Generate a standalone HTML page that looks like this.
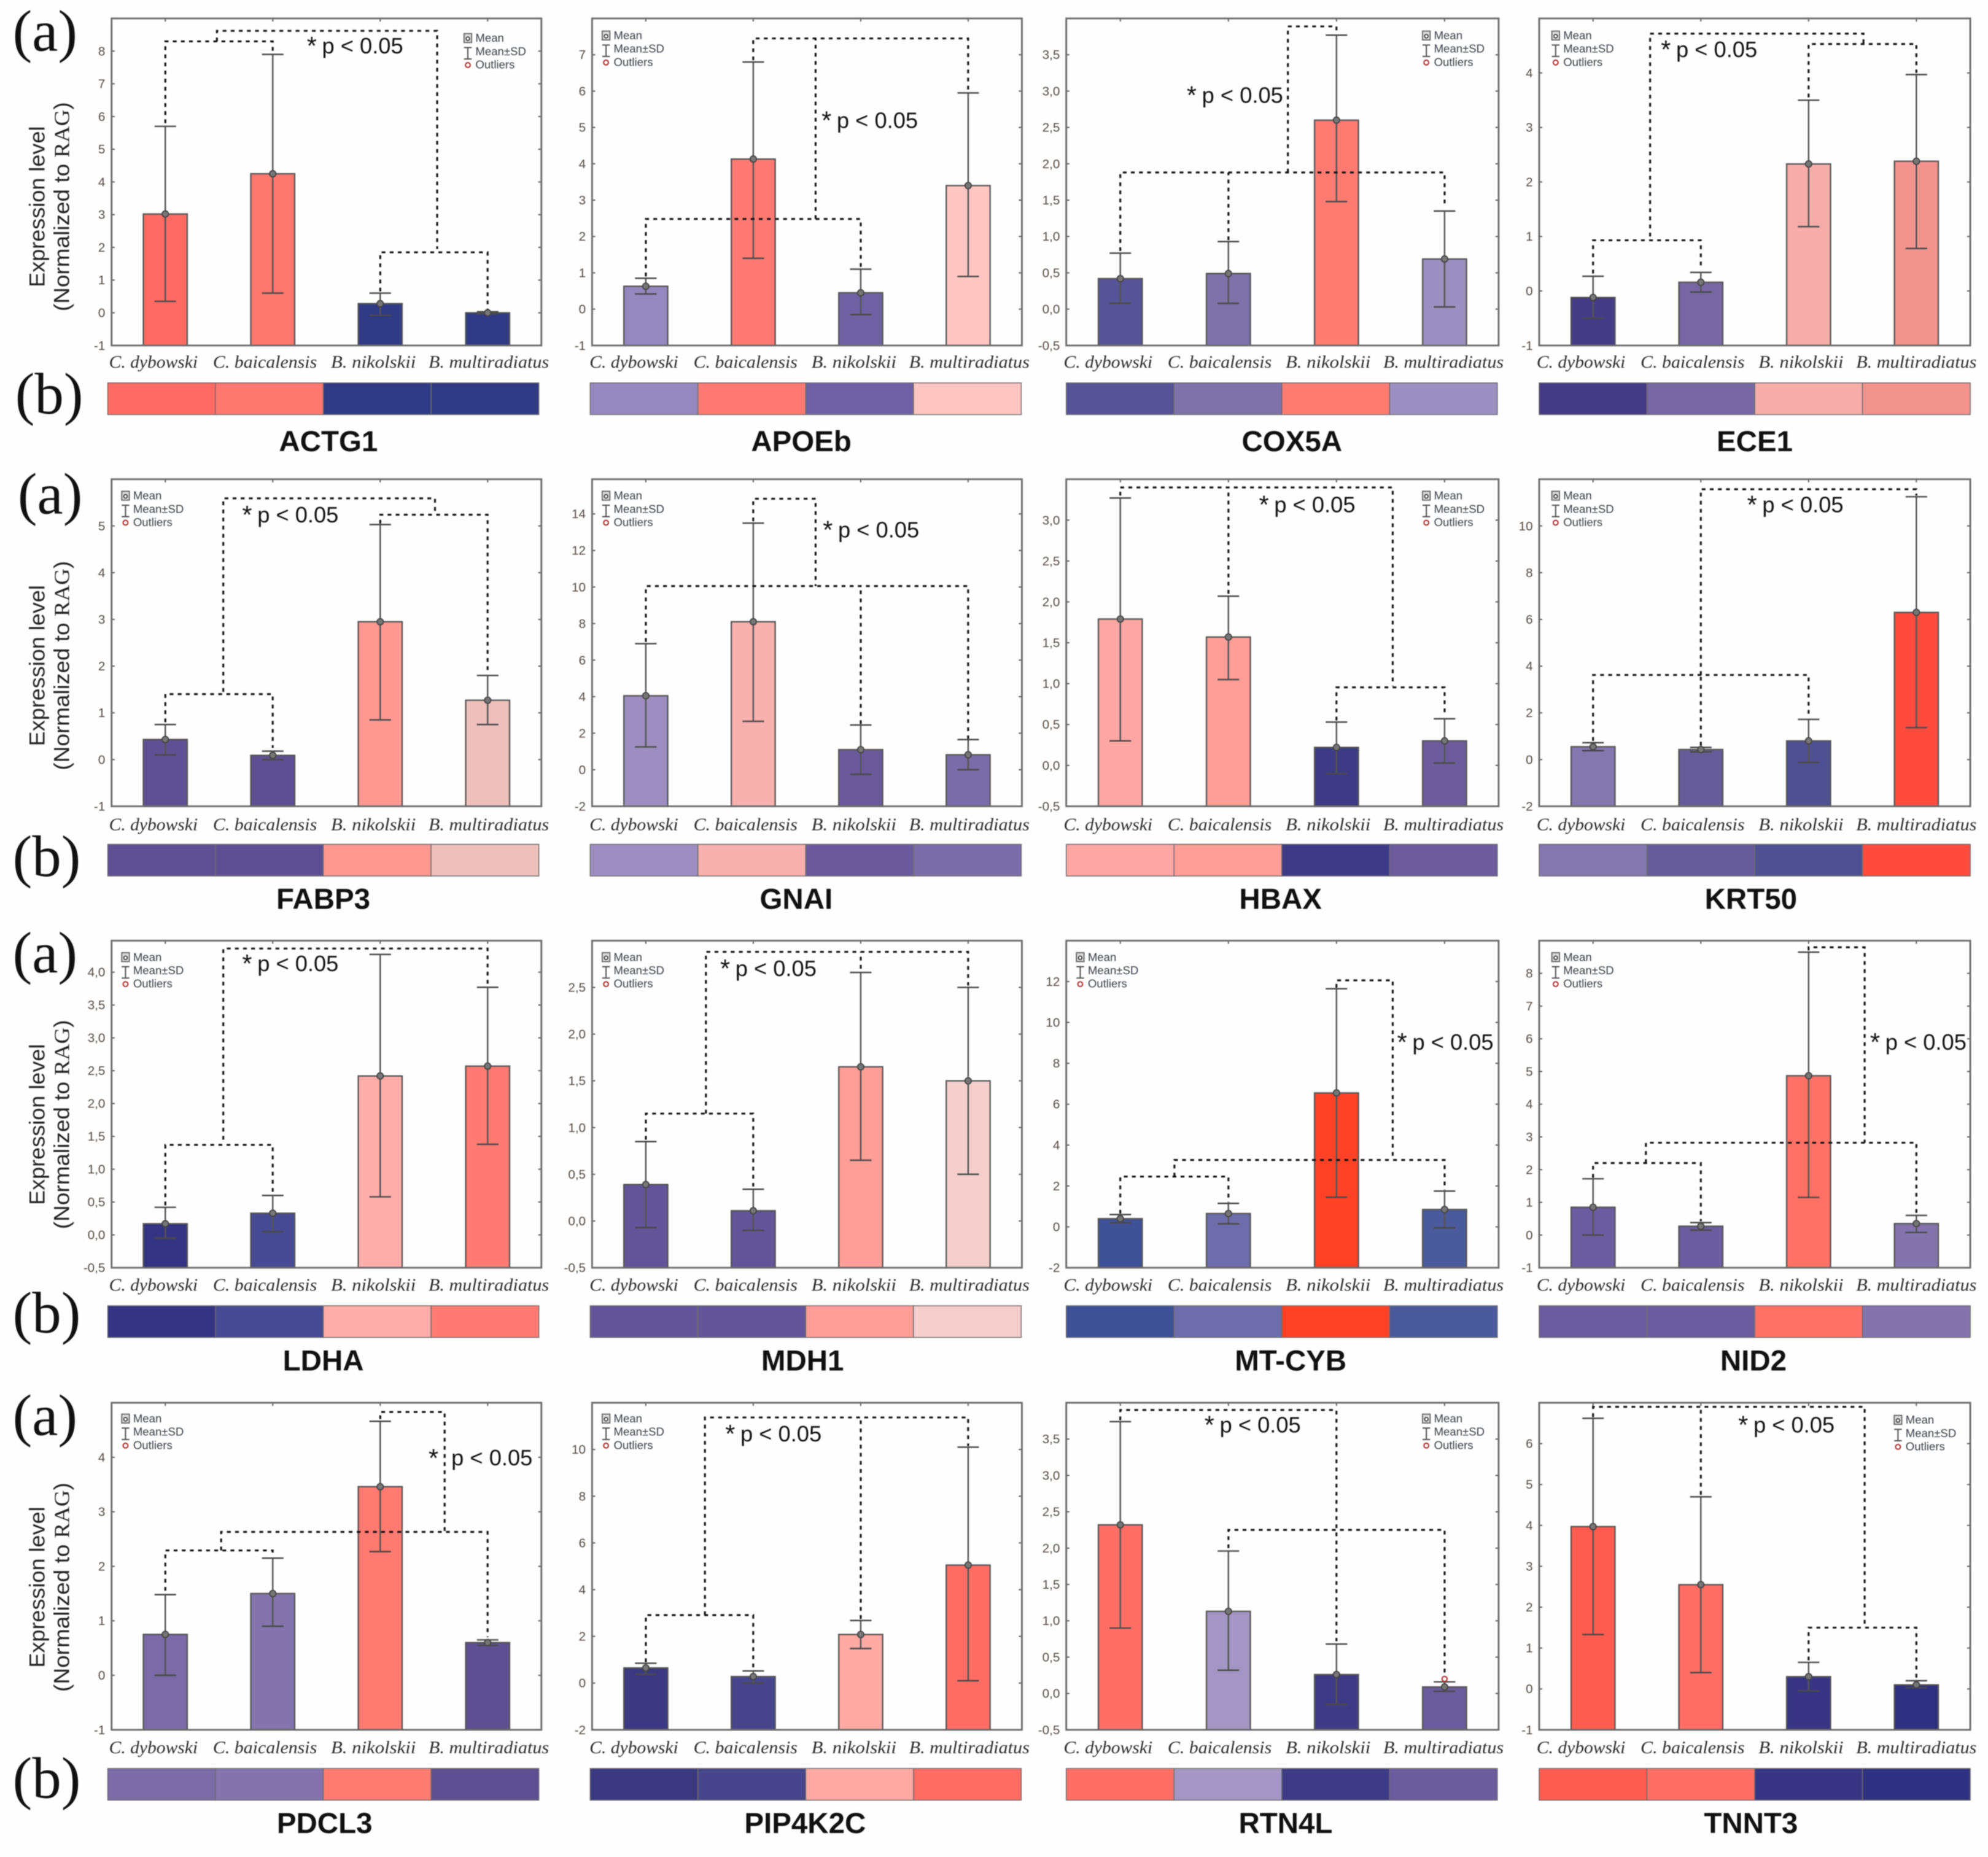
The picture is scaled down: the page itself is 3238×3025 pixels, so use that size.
<!DOCTYPE html>
<html lang="en">
<head>
<meta charset="utf-8">
<title>Expression level by species for sixteen genes</title>
<style>
html,body{margin:0;padding:0;background:#fefefe;}
svg{display:block;width:3238px;height:3025px;filter:blur(0.7px);}
text{font-family:"Liberation Sans",sans-serif;}
</style>
</head>
<body>
<svg id="figure" xmlns="http://www.w3.org/2000/svg" viewBox="0 0 1568 1464.8"></svg>
<script>
/* ---------- data ---------- */
const genes = ["ACTG1","APOEb","COX5A","ECE1","FABP3","GNAI","HBAX","KRT50","LDHA","MDH1","MT-CYB","NID2","PDCL3","PIP4K2C","RTN4L","TNNT3"];
const species = ["C. dybowski","C. baicalensis","B. nikolskii","B. multiradiatus"];
const means = [
  [3.02,4.25,0.28,0.0],[0.63,4.13,0.45,3.4],[0.42,0.49,2.6,0.69],[-0.12,0.16,2.33,2.38],
  [0.43,0.09,2.95,1.27],[4.05,8.1,1.1,0.82],[1.79,1.57,0.22,0.3],[0.55,0.43,0.8,6.3],
  [0.17,0.33,2.42,2.57],[0.39,0.11,1.65,1.5],[0.4,0.65,6.55,0.85],[0.85,0.27,4.87,0.35],
  [0.75,1.5,3.46,0.6],[0.65,0.28,2.08,5.05],[2.32,1.13,0.26,0.09],[3.97,2.55,0.3,0.1]
];
const sdUpper = [
  [5.7,7.9,0.6,0.03],[0.85,6.8,1.1,5.95],[0.77,0.93,3.77,1.35],[0.27,0.34,3.5,3.97],
  [0.75,0.18,5.03,1.8],[6.9,13.5,2.45,1.65],[3.27,2.07,0.53,0.57],[0.72,0.52,1.72,11.25],
  [0.42,0.6,4.27,3.77],[0.85,0.34,2.66,2.5],[0.6,1.15,11.65,1.75],[1.72,0.38,8.65,0.6],
  [1.48,2.15,4.66,0.65],[0.85,0.52,2.68,10.1],[3.74,1.96,0.68,0.16],[6.62,4.7,0.65,0.2]
];
const sdLower = [
  [0.35,0.6,-0.08,-0.03],[0.42,1.4,-0.15,0.9],[0.08,0.08,1.48,0.03],[-0.5,-0.02,1.18,0.78],
  [0.1,0,0.85,0.75],[1.25,2.65,-0.25,0],[0.3,1.05,-0.1,0.03],[0.38,0.33,-0.12,1.37],
  [-0.05,0.05,0.58,1.38],[-0.07,-0.1,0.65,0.5],[0.2,0.15,1.45,-0.05],[0,0.15,1.15,0.08],
  [0,0.9,2.27,0.55],[0.38,0,1.48,0.1],[0.9,0.32,-0.15,0.03],[1.33,0.4,-0.05,0.03]
];
/* outlier points: [category index, value], only RTN4L has one */
const outliers = [[],[],[],[],[],[],[],[],[],[],[],[],[],[],[[3,0.2]],[]];
const yMins = [-1,-1,-0.5,-1,-1,-2,-0.5,-2,-0.5,-0.5,-2,-1,-1,-2,-0.5,-1];
const yMaxs = [9,8,4,5,6,15.9,3.5,12,4.48,3,14,9,5,12,4,7];
const tickLabels = [
  ["-1","0","1","2","3","4","5","6","7","8"],
  ["-1","0","1","2","3","4","5","6","7"],
  ["-0,5","0,0","0,5","1,0","1,5","2,0","2,5","3,0","3,5"],
  ["-1","0","1","2","3","4"],
  ["-1","0","1","2","3","4","5"],
  ["-2","0","2","4","6","8","10","12","14"],
  ["-0,5","0,0","0,5","1,0","1,5","2,0","2,5","3,0"],
  ["-2","0","2","4","6","8","10"],
  ["-0,5","0,0","0,5","1,0","1,5","2,0","2,5","3,0","3,5","4,0"],
  ["-0,5","0,0","0,5","1,0","1,5","2,0","2,5"],
  ["-2","0","2","4","6","8","10","12"],
  ["-1","0","1","2","3","4","5","6","7","8"],
  ["-1","0","1","2","3","4"],
  ["-2","0","2","4","6","8","10"],
  ["-0,5","0,0","0,5","1,0","1,5","2,0","2,5","3,0","3,5"],
  ["-1","0","1","2","3","4","5","6"]
];
/* significance brackets: polylines of [category index, value] */
const brackets = [
  [[[0,5.8],[0,8.3],[1,8.3],[1,7.95]],[[2,0.65],[2,1.85],[3,1.85],[3,0.1]],[[0.48,8.3],[0.48,8.62],[2.53,8.62],[2.53,1.95]]],
  [[[0,0.9],[0,2.48],[2,2.48],[2,1.15]],[[1.58,2.48],[1.58,7.45]],[[1,6.85],[1,7.45],[3,7.45],[3,6]]],
  [[[0,0.8],[0,1.88],[3,1.88],[3,1.4]],[[1,0.95],[1,1.88]],[[1.55,1.88],[1.55,3.89],[2,3.89],[2,3.8]]],
  [[[0,0.32],[0,0.93],[1,0.93],[1,0.4]],[[2,3.55],[2,4.53],[3,4.53],[3,4]],[[0.53,1.0],[0.53,4.72],[2.51,4.72],[2.51,4.53]]],
  [[[0,0.8],[0,1.4],[1,1.4],[1,0.25]],[[2,5.05],[2,5.24],[3,5.24],[3,1.85]],[[0.54,1.45],[0.54,5.59],[2.51,5.59],[2.51,5.24]]],
  [[[0,7],[0,10.05],[3,10.05],[3,1.7]],[[2,2.5],[2,10.05]],[[1,13.6],[1,14.83],[1.58,14.83],[1.58,10.05]]],
  [[[0,3.3],[0,3.4],[2.52,3.4],[2.52,0.97]],[[1,2.1],[1,3.4]],[[2,0.55],[2,0.955],[3,0.955],[3,0.6]]],
  [[[0,0.8],[0,3.62],[2,3.62],[2,1.8]],[[1,0.6],[1,3.62]],[[1,3.62],[1,11.57],[3,11.57],[3,11.3]]],
  [[[0,0.45],[0,1.37],[1,1.37],[1,0.65]],[[0.54,1.45],[0.54,4.36],[3,4.36],[3,3.8]]],
  [[[0,0.87],[0,1.15],[1,1.15],[1,0.37]],[[0.56,1.15],[0.56,2.88],[3,2.88],[3,2.52]],[[2,2.7],[2,2.88]]],
  [[[0,0.65],[0,2.46],[1,2.46],[1,1.2]],[[0.5,2.46],[0.5,3.27],[3,3.27],[3,1.8]],[[2,11.7],[2,12.06],[2.52,12.06],[2.52,3.27]]],
  [[[0,1.75],[0,2.2],[1,2.2],[1,0.42]],[[0.49,2.2],[0.49,2.82],[3,2.82],[3,0.65]],[[2,8.7],[2,8.8],[2.52,8.8],[2.52,2.82]]],
  [[[0,1.55],[0,2.29],[1,2.29],[1,2.2]],[[0.52,2.29],[0.52,2.63],[3,2.63],[3,0.7]],[[2,4.7],[2,4.83],[2.6,4.83],[2.6,2.63]]],
  [[[0,0.9],[0,2.91],[1,2.91],[1,0.6]],[[0.55,2.91],[0.55,11.37],[3,11.37],[3,10.15]],[[2,2.75],[2,11.37]]],
  [[[0,3.76],[0,3.9],[2,3.9],[2,0.72]],[[1,2],[1,2.25],[3,2.25],[3,0.26]]],
  [[[0,6.65],[0,6.9],[2.52,6.9],[2.52,1.5]],[[1,4.75],[1,6.9]],[[2,0.7],[2,1.5],[3,1.5],[3,0.25]]]
];

/* ---------- styling and layout (figure units: 1568 wide) ---------- */
const fillColors = [
  ["#FF6B64","#FF776F","#303A85","#303A85"],["#9488BE","#FF7A72","#6E62A4","#FFC6C4"],
  ["#565497","#7D72AA","#FF7B72","#9B90C0"],["#453A86","#7666A2","#F6ADA9","#F3938E"],
  ["#5F5094","#5E4F93","#FF9891","#EDC0BC"],["#9D8EC0","#F8B1AE","#6A5A9C","#7A6CA8"],
  ["#FDA6A3","#FF9D97","#3D3A86","#6C5C9C"],["#8477B0","#665B99","#4F5092","#FF4B3E"],
  ["#353483","#464B93","#FFADAA","#FF7A72"],["#62559A","#62559A","#FF9D98","#F5CFCC"],
  ["#3F5196","#6E6DAB","#FF4226","#4B5A9B"],["#6A5C9E","#6A5C9E","#FF7065","#8374AE"],
  ["#7A6AA6","#8474AD","#FF7A70","#5D4F91"],["#3C3983","#47458B","#FFA9A4","#FF6C64"],
  ["#FF6F66","#A396C5","#3F3A85","#6A5C9C"],["#FF5C50","#FF6E65","#373584","#2F3180"]
];
const plotLefts = [88,467,841,1214];
const plotWidths = [339,339,341,340];
const stripLefts = [85,465.5,841,1214];
const stripWidth = 340;
const rowTops = [14.5,378,742,1106.5];
const plotHeight = 258;
const stripTops = [302,666,1030,1395];
const stripHeight = 25;
const speciesBaselines = [290,655,1018,1383];
const geneBaselines = [356,717,1081,1446];
const geneCenters = [259,632,1019,1384,255,628,1010,1381,255,633,1018,1383,256,635,1014,1381];
const speciesOffsets = [-2,80,173,250];
const speciesLengths = [70,82,67,95];
const noteAnchors = [[242,42],[648,101],[936,81],[1310,45],[191,412],[649,424],[993,404],[1378,404],[191,766],[568,770],[1102,828],[1475,828],[338,1156],[572,1137],[950,1130],[1371,1130]];
const noteGaps = [12,12,12,12,12,12,12,12,12,12,12,12,18,12,12,12];
const legendAnchors = [[369,30],[478,28],[1125,28],[1227,28],[99,391],[478,391],[1125,391],[1227,391],[99,755],[478,755],[852,755],[1227,755],[99,1119],[478,1119],[1125,1119],[1497,1120]];
const panelLetters = [["(a)",10,40],["(b)",12,326],["(a)",14,405],["(b)",10,691],["(a)",10,767],["(b)",10,1051],["(a)",10,1132],["(b)",10,1418]];
const yTitleCenters = [163,525,887,1252];

const NS = "http://www.w3.org/2000/svg";
const svg = document.getElementById("figure");
function mk(parent, tag, attrs, txt){
  const e = document.createElementNS(NS, tag);
  for(const k in attrs){ e.setAttribute(k, attrs[k]); }
  if(txt !== undefined){ e.textContent = txt; }
  parent.appendChild(e);
  return e;
}
function parseTick(s){ return parseFloat(s.replace(",", ".")); }

const bg = mk(svg, "rect", {x:0,y:0,width:1568,height:1464.8,fill:"#fefefe"});



panelLetters.forEach(function(p){
  const t = mk(svg, "text", {x:p[1],y:p[2],"font-size":46,fill:"#111",style:'font-family:"Liberation Serif",serif'}, p[0]);
  
  
});

yTitleCenters.forEach(function(cy){
  const a = mk(svg, "text", {transform:"translate(35,"+cy+") rotate(-90)","text-anchor":"middle","font-size":17,fill:"#222",textLength:127,lengthAdjust:"spacingAndGlyphs"}, "Expression level");
  
  
  const b = mk(svg, "text", {transform:"translate(54.5,"+cy+") rotate(-90)","text-anchor":"middle","font-size":17,fill:"#222",textLength:165,lengthAdjust:"spacingAndGlyphs"}, "(Normalized to ");
  
  
  const rag = mk(b, "tspan", {style:'font-family:"Liberation Serif",serif'}, "RAG");
  
  
  b.appendChild(document.createTextNode(")"));
});

genes.forEach(function(gene, p){
  const col = p % 4, row = Math.floor(p / 4);
  const L = plotLefts[col], W = plotWidths[col], T = rowTops[row], B = T + plotHeight;
  const yMin = yMins[p], yMax = yMaxs[p];
  const xOf = function(c){ return L + W * (0.125 + 0.25 * c); };
  const yOf = function(v){ return B - (v - yMin) / (yMax - yMin) * plotHeight; };

  const g = mk(svg, "g", {});
  
  

  const plotBg = mk(g, "rect", {x:L,y:T,width:W,height:plotHeight,fill:"#fefefe"});
  
  

  /* y ticks and labels */
  tickLabels[p].forEach(function(lab){
    const y = yOf(parseTick(lab));
    const t1 = mk(g, "line", {x1:L,x2:L+2.5,y1:y,y2:y,stroke:"#555","stroke-width":0.9});
    
    
    const t2 = mk(g, "line", {x1:L+W-2.5,x2:L+W,y1:y,y2:y,stroke:"#555","stroke-width":0.9});
    
    
    const tl = mk(g, "text", {x:L-5,y:y+3.4,"text-anchor":"end","font-size":10,fill:"#544a42"}, lab);
    
    
  });

  /* bars, whiskers, mean points */
  species.forEach(function(sp, c){
    const x = xOf(c), m = means[p][c];
    const bar = mk(g, "rect", {x:x-17.3,y:yOf(m),width:34.6,height:B-yOf(m),fill:fillColors[p][c],stroke:"#555","stroke-width":1.1});
    
    
    const w = mk(g, "line", {x1:x,x2:x,y1:yOf(sdUpper[p][c]),y2:yOf(sdLower[p][c]),stroke:"#555","stroke-width":1.2});
    
    
    const capU = mk(g, "line", {x1:x-8.5,x2:x+8.5,y1:yOf(sdUpper[p][c]),y2:yOf(sdUpper[p][c]),stroke:"#4a4a4a","stroke-width":1.2});
    
    
    const capL = mk(g, "line", {x1:x-8.5,x2:x+8.5,y1:yOf(sdLower[p][c]),y2:yOf(sdLower[p][c]),stroke:"#4a4a4a","stroke-width":1.2});
    
    
    const dot = mk(g, "circle", {cx:x,cy:yOf(m),r:2.5,fill:"#777",stroke:"#444","stroke-width":0.9});
    
    
    const xt = mk(g, "line", {x1:x,x2:x,y1:T,y2:T+2.5,stroke:"#555","stroke-width":0.9});
    
    
    const lab = mk(g, "text", {x:L+speciesOffsets[c],y:speciesBaselines[row],"font-size":14,"font-style":"italic",fill:"#2c2c2c",textLength:speciesLengths[c],lengthAdjust:"spacingAndGlyphs",style:'font-family:"Liberation Serif",serif'}, sp);
    
    
  });

  /* frame */
  const frame = mk(g, "rect", {x:L,y:T,width:W,height:plotHeight,fill:"none",stroke:"#6c6c6c","stroke-width":1.4});
  
  

  /* outliers */
  outliers[p].forEach(function(o){
    const oc = mk(g, "circle", {cx:xOf(o[0]),cy:yOf(o[1]),r:2,fill:"none",stroke:"#b03030","stroke-width":1});
    
    
  });

  /* significance brackets */
  brackets[p].forEach(function(path){
    const pts = path.map(function(q){ return xOf(q[0]).toFixed(1) + "," + yOf(q[1]).toFixed(1); }).join(" ");
    const br = mk(g, "polyline", {points:pts,fill:"none",stroke:"#111","stroke-width":1.5,"stroke-dasharray":"3 3.4"});
    
    
  });

  /* p-value note */
  const na = noteAnchors[p];
  const star = mk(g, "text", {x:na[0],y:na[1]+1,"font-size":20,fill:"#111"}, "*");
  
  
  const note = mk(g, "text", {x:na[0]+noteGaps[p],y:na[1],"font-size":17.5,fill:"#111",textLength:64,lengthAdjust:"spacingAndGlyphs"}, "p < 0.05");
  
  

  /* legend */
  const la = legendAnchors[p], lx = la[0], ly = la[1];
  const lg = mk(g, "g", {});
  
  
  const i1 = mk(lg, "rect", {x:lx-3,y:ly-3.5,width:6,height:7,fill:"#ddd",stroke:"#666","stroke-width":0.9});
  
  
  const i1d = mk(lg, "circle", {cx:lx,cy:ly+0.5,r:1.4,fill:"#fff",stroke:"#333","stroke-width":0.8});
  
  
  const i2 = mk(lg, "path", {d:"M"+(lx-3)+" "+(ly+7.5)+"h6M"+lx+" "+(ly+7.5)+"v9M"+(lx-3)+" "+(ly+16.5)+"h6",fill:"none",stroke:"#555","stroke-width":1});
  
  
  const i3 = mk(lg, "circle", {cx:lx,cy:ly+21.3,r:1.9,fill:"#fff",stroke:"#b03030","stroke-width":1});
  
  
  const t1 = mk(lg, "text", {x:lx+6,y:ly+3,"font-size":9,fill:"#3a4048"}, "Mean");
  
  
  const t2 = mk(lg, "text", {x:lx+6,y:ly+13.5,"font-size":9,fill:"#3a4048"}, "Mean\u00B1SD");
  
  
  const t3 = mk(lg, "text", {x:lx+6,y:ly+24,"font-size":9,fill:"#3a4048"}, "Outliers");
  
  

  /* heat strip */
  const SL = stripLefts[col], ST = stripTops[row];
  fillColors[p].forEach(function(color, c){
    const cell = mk(g, "rect", {x:SL+c*stripWidth/4,y:ST,width:stripWidth/4,height:stripHeight,fill:color,stroke:"#6e6e6e","stroke-width":0.7});
    
    
  });

  /* gene label */
  const gl = mk(g, "text", {x:geneCenters[p],y:geneBaselines[row],"text-anchor":"middle","font-size":23,"font-weight":"bold",fill:"#111"}, gene);
  
  
});
</script>
</body>
</html>
